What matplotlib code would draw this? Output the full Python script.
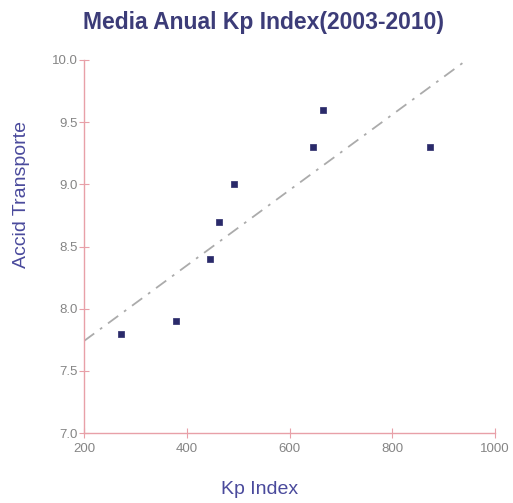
import matplotlib
matplotlib.use("Agg")
import matplotlib.pyplot as plt
import numpy as np

# Annual mean Kp index vs transport accidents
kp_index = [272, 380, 446, 462, 492, 645, 665, 873]
accid_transporte = [7.8, 7.9, 8.4, 8.7, 9.0, 9.3, 9.6, 9.3]

# Trend line: value at x=200 and slope, clipped at the top of the axis
trend_start = 7.74
trend_slope = 0.003034

x_ticks = [200, 400, 600, 800, 1000]
y_ticks = [7.0, 7.5, 8.0, 8.5, 9.0, 9.5, 10.0]

plt.rcParams['font.family'] = ['Liberation Sans', 'DejaVu Sans']

fig = plt.figure(figsize=(5.13, 5.03), dpi=100)
ax = fig.add_axes([84 / 513, 1 - 433 / 503, (495 - 84) / 513, (433 - 60) / 503])

axis_col = '#e8a0a8'
tick_col = '#858585'
label_col = '#4a4a9c'

x_end = 200 + (10.0 - trend_start) / trend_slope
tx = np.array([200, x_end])
ty = trend_start + trend_slope * (tx - 200)
ax.plot(tx, ty, color='#ababab', lw=1.3, linestyle=(0, (7, 4, 1.5, 4)), zorder=2)

ax.scatter(kp_index, accid_transporte, marker='s', s=18, color='#2a2a6a',
           edgecolors='#2a2a6a', linewidths=0.5, zorder=3)

ax.set_xlim(200, 1000)
ax.set_ylim(7.0, 10.0)
ax.set_xticks(x_ticks)
ax.set_yticks(y_ticks)
ax.set_yticklabels([f"{v:.1f}" for v in y_ticks])

for s in ['top', 'right']:
    ax.spines[s].set_visible(False)
for s in ['left', 'bottom']:
    ax.spines[s].set_color(axis_col)
    ax.spines[s].set_linewidth(1.0)

ax.tick_params(axis='both', direction='inout', length=7, width=0.8,
               color=axis_col, labelcolor=tick_col, labelsize=9.5)
ax.tick_params(axis='x', pad=4)
ax.tick_params(axis='y', pad=1)

fig.text(0.513, 1 - 22 / 503, 'Media Anual Kp Index(2003-2010)', ha='center', va='center',
         fontsize=16.5, fontweight='bold', color='#3c3c78')
fig.text(260 / 513, 1 - 490 / 503, 'Kp Index', ha='center', va='center',
         fontsize=14, color=label_col)
fig.text(22 / 513, 1 - 195 / 503, 'Accid Transporte', ha='center', va='center',
         rotation=90, fontsize=14, color=label_col)

fig.savefig('out.png', dpi=100)
